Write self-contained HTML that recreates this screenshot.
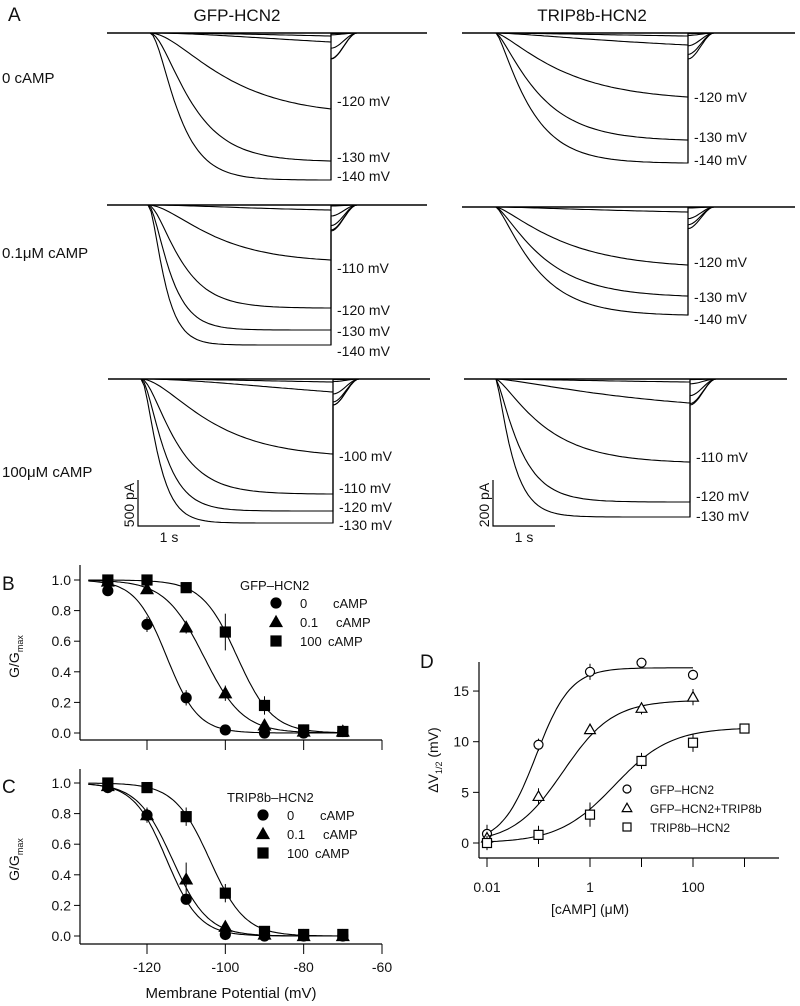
<!DOCTYPE html>
<html><head><meta charset="utf-8"><style>
body{margin:0;background:#fff}
svg{display:block;font-family:"Liberation Sans",sans-serif}
text{fill:#111}
</style></head><body>
<svg id="fig" width="800" height="1006" viewBox="0 0 800 1006">
<g id="traces"></g>
<g id="pb"></g>
<g id="pc"></g>
<g id="pd"></g>
</svg>
<script>
// ---- Panel B/C data ----
const voltages=[-130,-120,-110,-100,-90,-80,-70];
const b0=[0.93,0.71,0.23,0.02,0.0,0.0,0.01];
const b01=[0.99,0.94,0.69,0.26,0.05,0.01,0.01];
const b100=[1.0,1.0,0.95,0.66,0.18,0.02,0.01];
const bErr0=[0.02,0.05,0.05,0.01,0.01,0.01,0.01];
const bErr01=[0.01,0.02,0.04,0.05,0.02,0.01,0.01];
const bErr100=[0.01,0.01,0.02,0.12,0.06,0.01,0.01];
const bHalf=[-115,-105.5,-97];
const bSlope=[4,5,4.5];
const c0=[0.97,0.79,0.24,0.01,0.0,0.0,0.0];
const c01=[0.98,0.79,0.37,0.06,0.01,0.0,0.0];
const c100=[1.0,0.97,0.78,0.28,0.03,0.01,0.01];
const cErr0=[0.01,0.04,0.03,0.01,0.01,0.01,0.01];
const cErr01=[0.01,0.05,0.11,0.02,0.01,0.01,0.01];
const cErr100=[0.01,0.01,0.06,0.06,0.02,0.01,0.01];
const cHalf=[-115,-113.5,-104];
const cSlope=[4.2,4.5,4.5];
const gTicks=[0,0.2,0.4,0.6,0.8,1.0];
const vTicks=[-120,-100,-80,-60];
// ---- Panel D data ----
const conc=[0.01,0.1,1,10,100,1000];
const dGFP=[0.9,9.7,16.9,17.8,16.6];
const dGFPT=[0.5,4.6,11.2,13.3,14.4];
const dTRIP=[0.0,0.8,2.8,8.1,9.9,11.3];
const dErrGFP=[0.9,0.6,0.8,0.4,0.5];
const dErrGFPT=[0.6,0.8,0.4,0.6,0.8];
const dErrTRIP=[0.7,0.9,1.2,0.8,0.9,0.3];
const dFitMax=[17.3,14.1,11.4];
const dFitEC=[0.09,0.3,3];
const dFitN=[1.3,0.9,0.8];
const dYTicks=[0,5,10,15];
const dXTicks=[0.01,1,100];

const NS='http://www.w3.org/2000/svg';
function el(tag,attrs,parent,txt){const e=document.createElementNS(NS,tag);for(const k in attrs)e.setAttribute(k,attrs[k]);if(txt!=null)e.textContent=txt;parent.appendChild(e);return e;}

// ---- Panel A traces ----
const T=document.getElementById('traces');
function txt(x,y,s,size,anchor,name,parent){const t=el('text',{x:x,y:y,'font-size':size,'text-anchor':anchor||'start'},parent||T,s);

return t;}
txt(8,21,'A',19,'start','panel-a-label');
txt(237,21,'GFP-HCN2',17,'middle','gfp-hcn2-title');
txt(592,21,'TRIP8b-HCN2',17,'middle','trip8b-hcn2-title');
txt(2,83,'0 cAMP',15,'start','row-label-0-camp');
txt(2,258,'0.1μM cAMP',15,'start','row-label-0.1-camp');
txt(2,477,'100μM cAMP',15,'start','row-label-100-camp');
const panels=[
 {x0:107,xs:150,xe:331,x1:427,base:33,bots:[36,42,109,161,180],taus:[3,2,0.7,0.38,0.26],labels:[['-120 mV',101],['-130 mV',157],['-140 mV',176]]},
 {x0:462,xs:496,xe:688,x1:795,base:33,bots:[36,45,97,140,163],taus:[3,2,0.7,0.45,0.35],labels:[['-120 mV',97],['-130 mV',137],['-140 mV',160]]},
 {x0:107,xs:148,xe:331,x1:427,base:205,bots:[210,260,308,330,345],taus:[1.2,0.6,0.3,0.2,0.15],labels:[['-110 mV',268],['-120 mV',310],['-130 mV',331],['-140 mV',351]]},
 {x0:462,xs:496,xe:688,x1:795,base:207,bots:[212,265,296,315],taus:[2,0.7,0.5,0.42],labels:[['-120 mV',262],['-130 mV',297],['-140 mV',319]]},
 {x0:108,xs:141,xe:333,x1:430,base:379,bots:[382,392,454,494,511,523],taus:[2,2,0.6,0.3,0.2,0.15],labels:[['-100 mV',456],['-110 mV',488],['-120 mV',507],['-130 mV',525]]},
 {x0:464,xs:496,xe:690,x1:787,base:379,bots:[382,403,462,502,517],taus:[2,1.5,0.5,0.25,0.17],labels:[['-110 mV',457],['-120 mV',496],['-130 mV',516]]}
];
panels.forEach((p,pi)=>{
  const g=el('g',{},T);
  
  
  el('line',{x1:p.x0,y1:p.base,x2:p.x1,y2:p.base,stroke:'#000','stroke-width':1.4},g);
  const W=p.xe-p.xs;
  p.bots.forEach((b,i)=>{
    let d='M'+p.xs+','+p.base;
    const pw=pi%2===1?1.4:2;
    for(let k=1;k<=60;k++){const t=k/60*2.2;const f=Math.pow(1-Math.exp(-t/p.taus[i]),pw)/Math.pow(1-Math.exp(-2.2/p.taus[i]),pw);
      d+=' L'+(p.xs+W*k/60).toFixed(1)+','+(p.base+(b-p.base)*f).toFixed(1);}
    const tail=Math.min(26,(b-p.base)*0.2);
    d+=' L'+p.xe+','+(p.base+tail);
    for(let k=1;k<=12;k++){const t=k/12;d+=' L'+(p.xe+t*26).toFixed(1)+','+(p.base+tail*(1-t*t*(3-2*t))).toFixed(1);}
    const pa=el('path',{d:d,fill:'none',stroke:'#000','stroke-width':1.1},g);
    
    
  });
  const mx=Math.max(...p.bots);
  el('line',{x1:p.xe,y1:p.base,x2:p.xe,y2:mx,stroke:'#000','stroke-width':1.2},g);
  p.labels.forEach(l=>txt(p.xe+6,l[1]+5,l[0],14,'start','voltage-label',g));
});
// scale bars
[[138,200,'500 pA'],[493,555,'200 pA']].forEach((s,i)=>{
  const g=el('g',{},T);
  
  
  el('path',{d:'M'+s[0]+',480 L'+s[0]+',526 L'+s[1]+',526',fill:'none',stroke:'#000','stroke-width':1.2},g);
  el('text',{x:0,y:0,'font-size':14,'text-anchor':'middle',transform:'translate('+(s[0]-4)+',505) rotate(-90)'},g,s[2]);
  el('text',{x:(s[0]+31),y:542,'font-size':14,'text-anchor':'middle'},g,'1 s');
});

// ---- Panels B & C ----
function marker(g,shape,x,y,filled,sz){let m;const f=filled?'#000':'#fff';
 if(shape==='c')m=el('circle',{cx:x,cy:y,r:sz/2,fill:f,stroke:'#000','stroke-width':1.2},g);
 else if(shape==='t')m=el('polygon',{points:`${x},${y-sz*0.6} ${x-sz*0.6},${y+sz*0.45} ${x+sz*0.6},${y+sz*0.45}`,fill:f,stroke:'#000','stroke-width':1.2},g);
 else m=el('rect',{x:x-sz/2,y:y-sz/2,width:sz,height:sz,fill:f,stroke:'#000','stroke-width':1.2},g);
 
 return m;}
function gv(cfg){
 const g=document.getElementById(cfg.id);
 const X=v=>147+(v+120)*(235/60);
 const Y=a=>cfg.y0-a*(cfg.y0-cfg.y1);
 el('line',{x1:80,y1:cfg.top,x2:80,y2:cfg.axY,stroke:'#000','stroke-width':1.2},g);
 el('line',{x1:80,y1:cfg.axY,x2:382,y2:cfg.axY,stroke:'#000','stroke-width':1.2},g);
 gTicks.forEach(t=>{el('line',{x1:80,y1:Y(t),x2:74,y2:Y(t),stroke:'#000'},g);
   el('text',{x:71,y:Y(t)+5,'font-size':14,'text-anchor':'end'},g,t.toFixed(1));});
 vTicks.forEach(v=>{el('line',{x1:X(v),y1:cfg.axY,x2:X(v),y2:cfg.axY+10,stroke:'#000'},g);
   if(cfg.xl)el('text',{x:X(v),y:972,'font-size':14,'text-anchor':'middle'},g,v);});
 const yl=el('text',{x:0,y:0,'font-size':14,'text-anchor':'middle',transform:`translate(19,${(cfg.y0+cfg.y1)/2}) rotate(-90)`},g);
 yl.innerHTML='G/G<tspan font-size="9" dy="4">max</tspan>';
 el('text',{x:2,y:cfg.y1+10,'font-size':19},g,cfg.letter);
 cfg.series.forEach((s,si)=>{
   let d='';for(let v=-135;v<=-70;v+=0.5){const a=1/(1+Math.exp((v-cfg.half[si])/cfg.slope[si]));d+=(d?' L':'M')+X(v).toFixed(1)+','+Y(a).toFixed(1);}
   const c=el('path',{d:d,fill:'none',stroke:'#000','stroke-width':1.1},g);
   
   
   s.forEach((a,i)=>{const e=cfg.err[si][i];
     el('line',{x1:X(voltages[i]),x2:X(voltages[i]),y1:Y(a+e),y2:Y(a-e),stroke:'#000'},g);
     marker(g,['c','t','s'][si],X(voltages[i]),Y(a),true,10);});
 });
 el('text',{x:cfg.lx-36,y:cfg.ly-17,'font-size':13},g,cfg.title);
 [['0','cAMP',333],['0.1','cAMP',336],['100','cAMP',328]].forEach((l,i)=>{marker(g,['c','t','s'][i],cfg.lx,cfg.ly+i*19-4,true,10);
   el('text',{x:cfg.lx+24,y:cfg.ly+i*19+1,'font-size':13},g,l[0]);
   el('text',{x:cfg.lx+24+(l[2]-300),y:cfg.ly+i*19+1,'font-size':13},g,l[1]);});
}
gv({id:'pb',y0:733,y1:580,top:565,axY:740,series:[b0,b01,b100],err:[bErr0,bErr01,bErr100],half:bHalf,slope:bSlope,lx:276,ly:607,title:'GFP–HCN2',letter:'B',xl:false});
gv({id:'pc',y0:936,y1:783,top:769,axY:944,series:[c0,c01,c100],err:[cErr0,cErr01,cErr100],half:cHalf,slope:cSlope,lx:263,ly:819,title:'TRIP8b–HCN2',letter:'C',xl:true});
el('text',{x:231,y:998,'font-size':15,'text-anchor':'middle'},document.getElementById('pc'),'Membrane Potential (mV)');

// ---- Panel D ----
(function(){
 const g=document.getElementById('pd');
 const X=c=>487+(Math.log10(c)+2)*51.5;
 const Y=v=>843-v*10.13;
 el('line',{x1:479,y1:662,x2:479,y2:858,stroke:'#000','stroke-width':1.2},g);
 el('line',{x1:479,y1:858,x2:779,y2:858,stroke:'#000','stroke-width':1.2},g);
 dYTicks.forEach(t=>{el('line',{x1:479,x2:473,y1:Y(t),y2:Y(t),stroke:'#000'},g);
   el('text',{x:469,y:Y(t)+5,'font-size':14,'text-anchor':'end'},g,t);});
 conc.forEach(c=>el('line',{x1:X(c),x2:X(c),y1:858,y2:867,stroke:'#000'},g));
 dXTicks.forEach(c=>el('text',{x:X(c),y:892,'font-size':14,'text-anchor':'middle'},g,c));
 el('text',{x:590,y:914,'font-size':14,'text-anchor':'middle'},g,'[cAMP] (μM)');
 const yl=el('text',{x:0,y:0,'font-size':14,'text-anchor':'middle',transform:'translate(438,760) rotate(-90)'},g);
 yl.innerHTML='ΔV<tspan font-size="9" dy="4">1/2</tspan><tspan dy="-4"> (mV)</tspan>';
 el('text',{x:420,y:668,'font-size':19},g,'D');
 const sets=[dGFP,dGFPT,dTRIP],errs=[dErrGFP,dErrGFPT,dErrTRIP],sh=['c','t','s'];
 sets.forEach((s,si)=>{
   let d='';const end=si===2?1000:100;
   for(let l=-2;l<=Math.log10(end)+0.001;l+=0.05){const c=Math.pow(10,l);const v=dFitMax[si]/(1+Math.pow(dFitEC[si]/c,dFitN[si]));d+=(d?' L':'M')+X(c).toFixed(1)+','+Y(v).toFixed(1);}
   const p=el('path',{d:d,fill:'none',stroke:'#000','stroke-width':1.1},g);
   
   
   s.forEach((v,i)=>{const e=errs[si][i];
     el('line',{x1:X(conc[i]),x2:X(conc[i]),y1:Y(v+e),y2:Y(v-e),stroke:'#000'},g);
     marker(g,sh[i===undefined?0:si],X(conc[i]),Y(v),false,9);});
 });
 ['GFP–HCN2','GFP–HCN2+TRIP8b','TRIP8b–HCN2'].forEach((l,i)=>{marker(g,sh[i],627,793+i*19-4,false,8);
   el('text',{x:650,y:793+i*19+1,'font-size':12},g,l);});
})();
</script>
</body></html>
